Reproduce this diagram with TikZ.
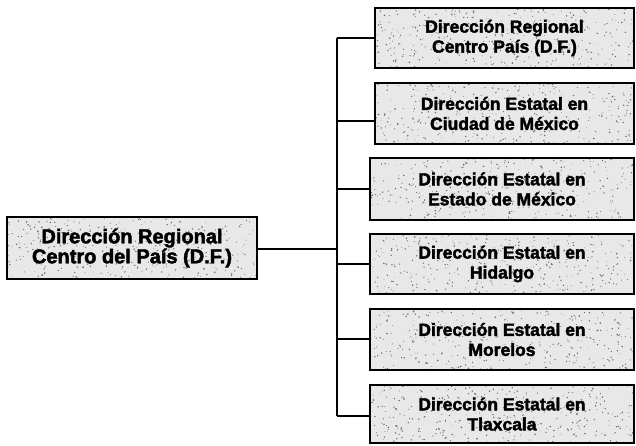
\documentclass[tikz,border=0pt]{standalone}
\usepackage{fontspec}
\setmainfont{Liberation Sans}[BoldFeatures={FakeBold=2.2}]
\begin{document}
\begin{tikzpicture}[x=1pt,y=1pt,
  orgbox/.style={draw=black, line width=1.8pt, rectangle, inner sep=0pt, align=center,
     font=\fontsize{17.5}{20}\selectfont\bfseries},
  rootbox/.style={orgbox, font=\fontsize{20}{20}\selectfont\bfseries},
  link/.style={draw=black, line width=1.5pt},
  speck/.style={fill=black!60}]
\useasboundingbox (0,0) rectangle (636,445);
\newcommand\speckbox[4]{%
  \fill[black!9] (#1,#2) rectangle ++(#3,#4);
  \foreach \k in {1,...,380}{%
    \pgfmathsetmacro\px{#1+rnd*#3}%
    \pgfmathsetmacro\py{#2+rnd*#4}%
    \pgfmathsetmacro\pr{0.35+0.5*rnd}%
    \fill[speck] (\px,\py) circle (\pr);
  }}
\pgfmathsetseed{7}
\speckbox{7}{166}{250}{62}
\speckbox{375}{377}{259}{60}
\speckbox{375}{301}{259}{61}
\speckbox{370}{225}{264}{62}
\speckbox{370}{151}{264}{60}
\speckbox{370}{75}{264}{61}
\speckbox{370}{2}{264}{58}

\node[rootbox, minimum width=250pt, minimum height=62pt] (root) at (132,197)
  {Dirección Regional\\Centro del País (D.F.)};
\node[orgbox, minimum width=259pt, minimum height=60pt] (b1) at (504.5,407)
  {Dirección Regional\\Centro País (D.F.)};
\node[orgbox, minimum width=259pt, minimum height=61pt] (b2) at (504.5,331.5)
  {Dirección Estatal en\\Ciudad de México};
\node[orgbox, minimum width=264pt, minimum height=62pt] (b3) at (502,256)
  {Dirección Estatal en\\Estado de México};
\node[orgbox, minimum width=264pt, minimum height=60pt] (b4) at (502,181)
  {Dirección Estatal en\\Hidalgo};
\node[orgbox, minimum width=264pt, minimum height=61pt] (b5) at (502,105.5)
  {Dirección Estatal en\\Morelos};
\node[orgbox, minimum width=264pt, minimum height=58pt] (b6) at (502,31)
  {Dirección Estatal en\\Tlaxcala};

\coordinate (t0) at (337,196);
\coordinate (t1) at (337,407);
\coordinate (t2) at (337,324);
\coordinate (t3) at (337,256);
\coordinate (t4) at (337,181);
\coordinate (t5) at (337,106);
\coordinate (t6) at (337,29);

\draw[link] (root.east |- t0) -- (t0);
\draw[link] (t1) -- (t6);
\draw[link] (t1) -- (t1 -| b1.west);
\draw[link] (t2) -- (t2 -| b2.west);
\draw[link] (t3) -- (t3 -| b3.west);
\draw[link] (t4) -- (t4 -| b4.west);
\draw[link] (t5) -- (t5 -| b5.west);
\draw[link] (t6) -- (t6 -| b6.west);
\end{tikzpicture}
\end{document}
